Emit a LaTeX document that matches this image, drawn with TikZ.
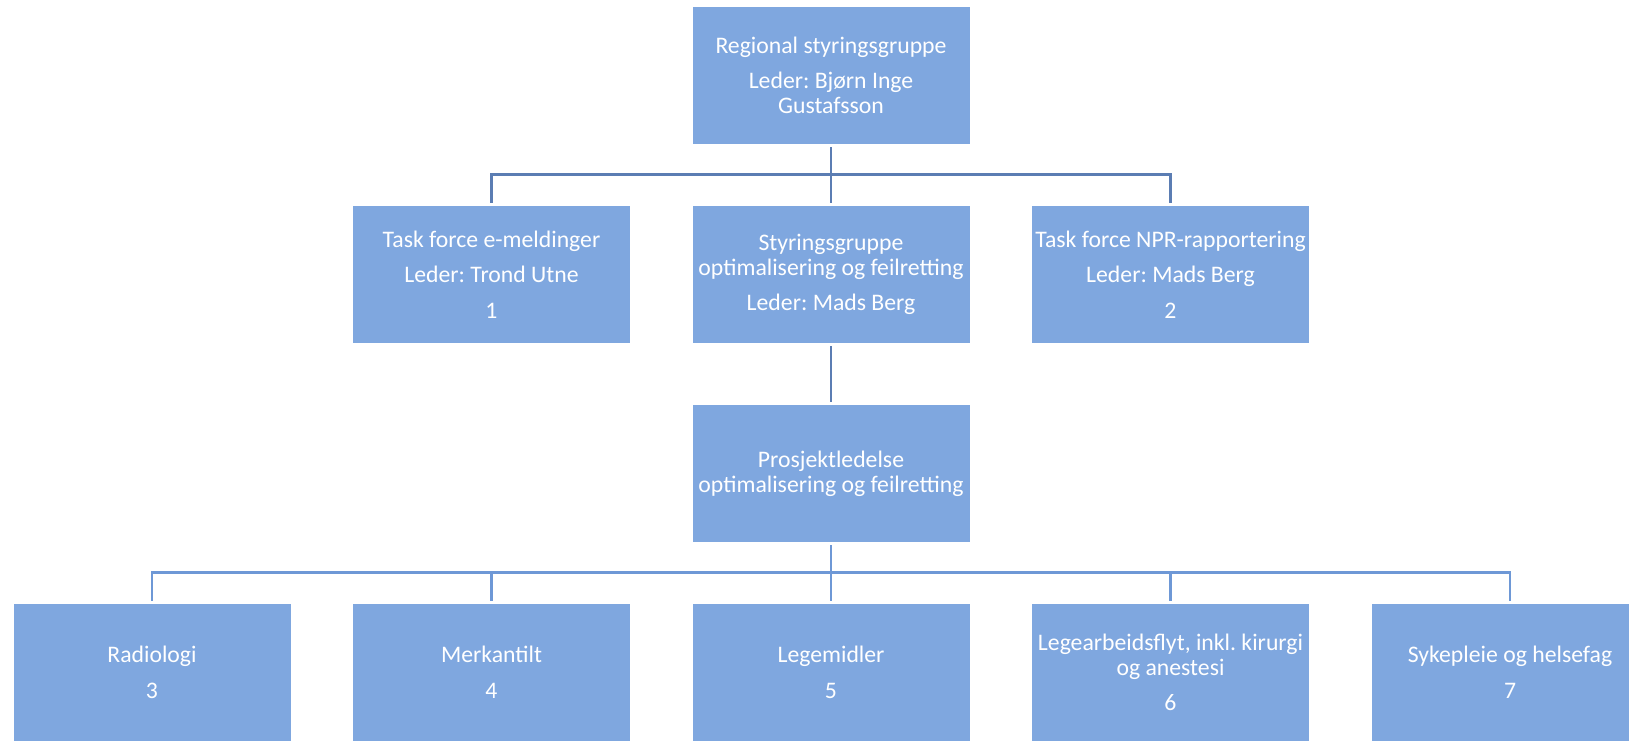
\documentclass[tikz,border=0pt]{standalone}
\usepackage{fontspec}
\setmainfont{Carlito}
\usepackage{xcolor}
\usepackage{tikz}
\definecolor{boxfill}{HTML}{7FA7DF}
\definecolor{linedark}{HTML}{5B7DB3}
\definecolor{linelight}{HTML}{6E98D6}
\frenchspacing

\begin{document}
\begin{tikzpicture}[
  every node/.style={fill=boxfill, draw=white, line width=0.4pt, text=white,
    minimum width=5.56cm, minimum height=2.76cm, inner sep=0pt, align=center,
    font=\fontsize{13.5}{14.2}\selectfont},
  level distance=3.98cm,
  edge from parent/.style={draw=linedark, line width=1.6pt, shorten <=0.05cm, shorten >=0.05cm},
  edge from parent path={(\tikzparentnode.south) -- ++(0,-0.6) -| (\tikzchildnode.north)},
  level 1/.style={sibling distance=6.79cm},
  level 3/.style={sibling distance=6.79cm,
    edge from parent/.style={draw=linelight, line width=1.6pt, shorten <=0.05cm, shorten >=0.05cm}}]
  \useasboundingbox (0,0) rectangle (32.58,-14.8);
  \node (regional) at (16.62,-1.51) {Regional styringsgruppe\\[6pt]Leder: Bjørn Inge\\Gustafsson}
    child {node (emeld) {Task force e-meldinger\\[6pt]Leder: Trond Utne\\[6pt]1}}
    child {node (styring) {Styringsgruppe\\optimalisering og feilretting\\[6pt]Leder: Mads Berg}
      child {node (prosjekt) {Prosjektledelse\\optimalisering og feilretting}
        child {node (radiologi) {Radiologi\\[6pt]3}}
        child {node (merkantilt) {Merkantilt\\[6pt]4}}
        child {node (legemidler) {Legemidler\\[6pt]5}}
        child {node (legearb) {Legearbeidsflyt, inkl. kirurgi\\og anestesi\\[6pt]6}}
        child {node (sykepleie) {Sykepleie og helsefag\\[6pt]7}}
      }
    }
    child {node (npr) {Task force NPR-rapportering\\[6pt]Leder: Mads Berg\\[6pt]2}};
\end{tikzpicture}
\end{document}
